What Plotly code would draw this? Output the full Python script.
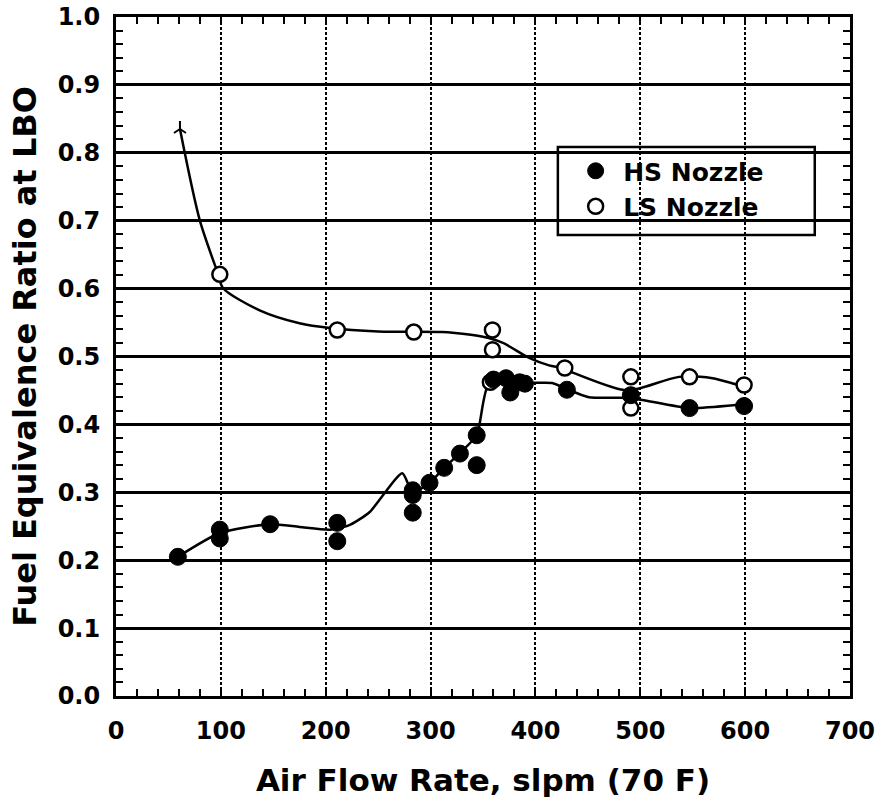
import plotly.graph_objects as go

# ---- data ----
hs_x = [59, 99, 99, 147, 211, 211, 283, 283, 283, 299, 313, 328, 344, 344,
        360, 372, 376, 385, 390, 430, 491, 547, 599]
hs_y = [0.205, 0.245, 0.232, 0.253, 0.255, 0.228, 0.303, 0.296, 0.270, 0.314,
        0.336, 0.357, 0.340, 0.384, 0.466, 0.468, 0.447, 0.462, 0.460, 0.451,
        0.443, 0.424, 0.427]

ls_x = [99, 211, 284, 359, 359, 357, 428, 491, 491, 547, 599]
ls_y = [0.621, 0.539, 0.536, 0.539, 0.510, 0.462, 0.483, 0.470, 0.424, 0.470, 0.458]

# hand-drawn fit curves
ls_curve_x = [61, 80, 97, 102, 137, 175, 204, 250, 311, 321, 350, 369, 394,
              413, 426, 436, 483, 499, 537, 569, 594, 600]
ls_curve_y = [0.835, 0.700, 0.623, 0.601, 0.568, 0.549, 0.542, 0.537, 0.536,
              0.535, 0.529, 0.520, 0.498, 0.487, 0.483, 0.476, 0.451, 0.453,
              0.470, 0.468, 0.458, 0.457]

hs_curve_x = [59, 99, 147, 175, 204, 223, 242, 273, 283, 299, 313, 328, 344,
              356, 394, 416, 430, 451, 487, 502, 547, 594, 600]
hs_curve_y = [0.205, 0.240, 0.253, 0.249, 0.245, 0.252, 0.271, 0.328, 0.300,
              0.314, 0.336, 0.358, 0.384, 0.461, 0.461, 0.461, 0.452, 0.440,
              0.439, 0.436, 0.424, 0.429, 0.430]

x_ticks = [0, 100, 200, 300, 400, 500, 600, 700]
y_ticks = [0.0, 0.1, 0.2, 0.3, 0.4, 0.5, 0.6, 0.7, 0.8, 0.9, 1.0]

FONT = "DejaVu Sans, Verdana, sans-serif"

fig = go.Figure()

fig.add_trace(go.Scatter(x=ls_curve_x, y=ls_curve_y, mode="lines",
                         line=dict(color="black", width=2.5, shape="spline", smoothing=0.8),
                         showlegend=False, hoverinfo="skip"))
fig.add_trace(go.Scatter(x=ls_curve_x[:1], y=ls_curve_y[:1], mode="markers",
                         marker=dict(symbol="y-up-open", size=10, color="black",
                                     line=dict(color="black", width=2)),
                         showlegend=False, hoverinfo="skip"))
fig.add_trace(go.Scatter(x=hs_curve_x, y=hs_curve_y, mode="lines",
                         line=dict(color="black", width=2.5, shape="spline", smoothing=0.6),
                         showlegend=False, hoverinfo="skip"))

fig.add_trace(go.Scatter(x=ls_x, y=ls_y, mode="markers", name="LS Nozzle",
                         marker=dict(symbol="circle", size=15, color="white",
                                     line=dict(color="black", width=2.5))))
fig.add_trace(go.Scatter(x=hs_x, y=hs_y, mode="markers", name="HS Nozzle",
                         marker=dict(symbol="circle", size=17, color="black",
                                     line=dict(color="black", width=1))))

axis_common = dict(
    showline=True, linecolor="black", linewidth=3, mirror="allticks",
    ticks="inside", ticklen=7, tickwidth=2, tickcolor="black",
    gridcolor="black", zeroline=False, tickmode="array",
    tickfont=dict(family=FONT, size=24, color="black", weight="bold"),
)

fig.update_xaxes(
    range=[0, 700], tickvals=x_ticks, ticktext=[str(v) for v in x_ticks],
    showgrid=True, gridwidth=2, griddash="3px,2px",
    minor=dict(tickmode="array",
               tickvals=[v for v in range(0, 701, 20) if v % 100 != 0],
               ticks="inside", ticklen=7, tickcolor="black",
               tickwidth=2, showgrid=False),
    title=dict(text="Air Flow Rate, slpm (70 F)", standoff=26,
               font=dict(family=FONT, size=31, color="black", weight="bold")),
    ticklabelstandoff=11,
    **axis_common,
)
fig.update_yaxes(
    range=[0, 1.0], tickvals=y_ticks, ticktext=[f"{v:.1f}" for v in y_ticks],
    showgrid=True, gridwidth=2.5,
    minor=dict(tickmode="array",
               tickvals=[i / 100 for i in range(0, 101, 2) if i % 10 != 0],
               ticks="inside", ticklen=7, tickcolor="black",
               tickwidth=2, showgrid=False),
    title=dict(text="Fuel Equivalence Ratio at LBO", standoff=12,
               font=dict(family=FONT, size=32, color="black", weight="bold")),
    ticklabelstandoff=8,
    **axis_common,
)

# legend frame
fig.add_shape(type="rect", xref="paper", yref="paper",
              x0=0.602, x1=0.952, y0=0.679, y1=0.8085,
              line=dict(color="black", width=2.5), fillcolor="rgba(0,0,0,0)")

fig.update_layout(
    width=885, height=804,
    margin=dict(l=116, r=35, t=17, b=108, autoexpand=False),
    plot_bgcolor="white", paper_bgcolor="white",
    font=dict(family=FONT, color="black"),
    legend=dict(x=0.616, y=0.807, xanchor="left", yanchor="top",
                bgcolor="rgba(0,0,0,0)", borderwidth=0,
                traceorder="reversed", itemsizing="trace", itemwidth=45,
                tracegroupgap=0,
                font=dict(family=FONT, size=25, color="black", weight="bold")),
    showlegend=True,
)

fig.write_html("out.html")
